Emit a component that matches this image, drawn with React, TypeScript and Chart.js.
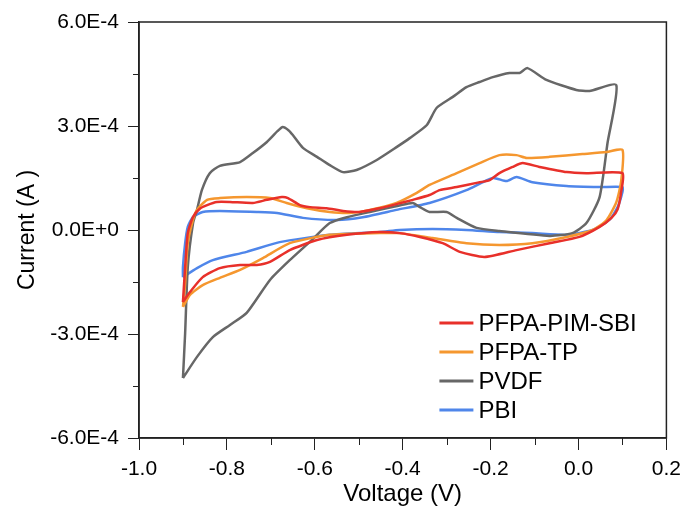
import React, { useEffect, useRef } from "react";
import { Chart, registerables } from "chart.js";

Chart.register(...registerables);

// Voltage (V) and current (units of 1E-4 A): anodic sweep then cathodic sweep
const sbiVoltage = [-0.9, -0.895, -0.889, -0.877, -0.861, -0.845, -0.823, -0.793, -0.741, -0.709, -0.675, -0.661, -0.634, -0.611, -0.573, -0.536, -0.498, -0.452, -0.41, -0.377, -0.339, -0.316, -0.277, -0.232, -0.202, -0.18, -0.15, -0.127, -0.089, -0.027, 0.018, 0.1,
  0.097, 0.089, 0.075, 0.048, 0.002, -0.066, -0.141, -0.214, -0.27, -0.309, -0.361, -0.407, -0.452, -0.527, -0.595, -0.657, -0.702, -0.732, -0.77, -0.816, -0.855, -0.884, -0.9];
const sbiCurrent = [-2.08, -1.07, -0.09, 0.38, 0.62, 0.72, 0.81, 0.81, 0.78, 0.87, 0.95, 0.92, 0.72, 0.66, 0.63, 0.55, 0.52, 0.63, 0.76, 0.87, 1.01, 1.15, 1.24, 1.36, 1.44, 1.64, 1.82, 1.93, 1.82, 1.67, 1.64, 1.64,
  1.1, 0.6, 0.35, 0.09, -0.2, -0.38, -0.58, -0.78, -0.63, -0.38, -0.2, -0.09, -0.06, -0.14, -0.29, -0.58, -0.92, -1.01, -1.01, -1.1, -1.36, -1.79, -2.08];

const tpVoltage = [-0.9, -0.895, -0.889, -0.877, -0.868, -0.845, -0.816, -0.755, -0.702, -0.664, -0.618, -0.566, -0.52, -0.475, -0.414, -0.368, -0.339, -0.277, -0.225, -0.18, -0.141, -0.118, -0.066, 0.009, 0.064, 0.1,
  0.097, 0.086, 0.064, 0.032, -0.027, -0.105, -0.18, -0.255, -0.332, -0.407, -0.452, -0.566, -0.657, -0.718, -0.77, -0.816, -0.855, -0.884, -0.9];
const tpCurrent = [-2.22, -1.53, -0.38, 0.3, 0.58, 0.87, 0.92, 0.95, 0.92, 0.78, 0.63, 0.52, 0.49, 0.58, 0.78, 1.07, 1.3, 1.64, 1.93, 2.16, 2.16, 2.08, 2.11, 2.19, 2.25, 2.31,
  1.4, 0.8, 0.29, 0.0, -0.2, -0.38, -0.43, -0.38, -0.23, -0.09, -0.09, -0.14, -0.38, -0.81, -1.15, -1.38, -1.59, -1.87, -2.22];

const pvdfVoltage = [-0.9, -0.895, -0.889, -0.877, -0.868, -0.857, -0.839, -0.816, -0.77, -0.741, -0.709, -0.685, -0.673, -0.66, -0.65, -0.627, -0.595, -0.566, -0.536, -0.505, -0.459, -0.414, -0.384, -0.345, -0.323, -0.286, -0.255, -0.225, -0.195, -0.157, -0.134, -0.116, -0.073, -0.005, 0.025, 0.086,
  0.066, 0.048, 0.018, -0.014, -0.066, -0.18, -0.232, -0.277, -0.3, -0.339, -0.361, -0.377, -0.41, -0.475, -0.527, -0.566, -0.607, -0.657, -0.702, -0.755, -0.793, -0.832, -0.868, -0.9];
const pvdfCurrent = [-4.27, -2.97, -1.07, 0.2, 0.58, 1.15, 1.64, 1.85, 1.96, 2.22, 2.54, 2.85, 2.97, 2.88, 2.74, 2.37, 2.11, 1.87, 1.67, 1.73, 2.02, 2.39, 2.65, 3.03, 3.52, 3.84, 4.12, 4.27, 4.41, 4.53, 4.53, 4.67, 4.33, 4.04, 4.01, 4.18,
  2.51, 0.95, 0.2, -0.09, -0.17, -0.03, 0.06, 0.35, 0.52, 0.52, 0.66, 0.78, 0.7, 0.52, 0.37, 0.2, -0.29, -0.87, -1.44, -2.39, -2.74, -3.09, -3.66, -4.27];

const pbiVoltage = [-0.9, -0.9, -0.895, -0.889, -0.877, -0.855, -0.816, -0.732, -0.686, -0.627, -0.55, -0.491, -0.414, -0.339, -0.255, -0.195, -0.164, -0.141, -0.105, -0.027, 0.048, 0.1,
  0.1, 0.089, 0.07, 0.032, -0.027, -0.105, -0.18, -0.255, -0.332, -0.407, -0.452, -0.566, -0.68, -0.755, -0.832, -0.868, -0.9];
const pbiCurrent = [-1.36, -1.07, -0.38, 0.09, 0.38, 0.52, 0.55, 0.52, 0.49, 0.35, 0.29, 0.37, 0.58, 0.78, 1.15, 1.5, 1.41, 1.53, 1.38, 1.27, 1.24, 1.24,
  1.1, 0.66, 0.29, 0.0, -0.14, -0.09, -0.06, 0.0, 0.03, 0.0, -0.06, -0.14, -0.35, -0.63, -0.87, -1.1, -1.36];

const seriesNames = ["PFPA-PIM-SBI", "PFPA-TP", "PVDF", "PBI"];
const seriesColors = ["#e8302a", "#f5972f", "#676767", "#4f86ea"];
const seriesVoltages = [sbiVoltage, tpVoltage, pvdfVoltage, pbiVoltage];
const seriesCurrents = [sbiCurrent, tpCurrent, pvdfCurrent, pbiCurrent];

const xMajorTicks = [-1.0, -0.8, -0.6, -0.4, -0.2, 0.0, 0.2];
const xMinorTicks = [-0.9, -0.7, -0.5, -0.3, -0.1, 0.1];
const yMajorTicks = [-6, -3, 0, 3, 6];
const yMinorTicks = [-4.5, -1.5, 1.5, 4.5];
const yTickLabels: Record<string, string> = { "-6": "-6.0E-4", "-3": "-3.0E-4", "0": "0.0E+0", "3": "3.0E-4", "6": "6.0E-4" };

const FONT = "'Liberation Sans', Arial, sans-serif";
const AXIS = "#222222";

const framePlugin = {
  id: "frameAndMinor",
  afterDraw(chart: any) {
    const { ctx, chartArea } = chart;
    const xs = chart.scales.x;
    const ys = chart.scales.y;
    ctx.save();
    ctx.strokeStyle = AXIS;
    ctx.lineWidth = 1.5;
    ctx.strokeRect(chartArea.left, chartArea.top, chartArea.right - chartArea.left, chartArea.bottom - chartArea.top);
    ctx.lineWidth = 1;
    ctx.beginPath();
    xMinorTicks.forEach((v) => {
      const px = Math.round(xs.getPixelForValue(v)) + 0.5;
      ctx.moveTo(px, chartArea.bottom);
      ctx.lineTo(px, chartArea.bottom + 7);
    });
    yMinorTicks.forEach((v) => {
      const py = Math.round(ys.getPixelForValue(v)) + 0.5;
      ctx.moveTo(chartArea.left, py);
      ctx.lineTo(chartArea.left - 6, py);
    });
    ctx.stroke();
    // legend
    const rowGap = 29;
    const baseY = chartArea.bottom - 28 - rowGap * (seriesNames.length - 1);
    const lineX0 = chartArea.right - 228;
    ctx.font = `24px ${FONT}`;
    ctx.textBaseline = "middle";
    ctx.textAlign = "left";
    chart.data.datasets.forEach((ds: any, i: number) => {
      const y = baseY + i * rowGap;
      ctx.strokeStyle = ds.borderColor;
      ctx.lineWidth = 3;
      ctx.beginPath();
      ctx.moveTo(lineX0 + 1, y);
      ctx.lineTo(lineX0 + 35, y);
      ctx.stroke();
      ctx.fillStyle = "#000";
      ctx.fillText(ds.label, lineX0 + 40, y + 1);
    });
    ctx.restore();
  },
};

export default function App() {
  const ref = useRef<HTMLCanvasElement>(null);
  useEffect(() => {
    if (!ref.current) return;
    const datasets = seriesNames.map((name, i) => ({
      label: name,
      data: seriesVoltages[i].map((v, j) => ({ x: v, y: seriesCurrents[i][j] })),
      borderColor: seriesColors[i],
      backgroundColor: seriesColors[i],
      borderWidth: 2.5,
      pointRadius: 0,
      showLine: true,
      tension: 0.2,
      fill: false,
    }));
    const chart = new Chart(ref.current, {
      type: "scatter",
      data: { datasets },
      plugins: [framePlugin],
      options: {
        animation: false,
        responsive: false,
        maintainAspectRatio: false,
        layout: { padding: { top: 22, right: 21, left: 0, bottom: 0 } },
        plugins: { legend: { display: false }, tooltip: { enabled: false } },
        scales: {
          x: {
            type: "linear",
            min: -1.0,
            max: 0.2,
            afterFit: (s: any) => { s.height = 75; },
            afterBuildTicks: (s: any) => { s.ticks = xMajorTicks.map((v) => ({ value: v })); },
            grid: { drawOnChartArea: false, drawTicks: true, tickLength: 12, tickColor: AXIS, tickWidth: 1 },
            border: { display: true, color: AXIS, width: 1.5 },
            ticks: {
              padding: 7,
              color: "#000",
              font: { family: FONT, size: 21 },
              maxRotation: 0,
              callback: (v: any) => (Math.abs(Number(v)) < 1e-9 ? "0.0" : Number(v).toFixed(1)),
            },
            title: { display: true, text: "Voltage (V)", color: "#000", font: { family: FONT, size: 24 }, padding: { top: 0, bottom: 4 } },
          },
          y: {
            type: "linear",
            min: -6,
            max: 6,
            afterFit: (s: any) => { s.width = 139; },
            afterBuildTicks: (s: any) => { s.ticks = yMajorTicks.map((v) => ({ value: v })); },
            grid: { drawOnChartArea: false, drawTicks: true, tickLength: 11, tickColor: AXIS, tickWidth: 1 },
            border: { display: true, color: AXIS, width: 1.5 },
            ticks: {
              padding: 9,
              color: "#000",
              font: { family: FONT, size: 21 },
              callback: (v: any) => yTickLabels[String(Math.round(Number(v)))] ?? "",
            },
            title: { display: true, text: "Current (A )", color: "#000", font: { family: FONT, size: 23 }, padding: { top: 14, bottom: 0 } },
          },
        },
      },
    });
    return () => chart.destroy();
  }, []);
  return (
    <div style={{ position: "absolute", left: 0, top: 0, width: 688, height: 513, background: "#fff" }}>
      <canvas ref={ref} width={688} height={513} style={{ width: 688, height: 513 }} />
    </div>
  );
}
